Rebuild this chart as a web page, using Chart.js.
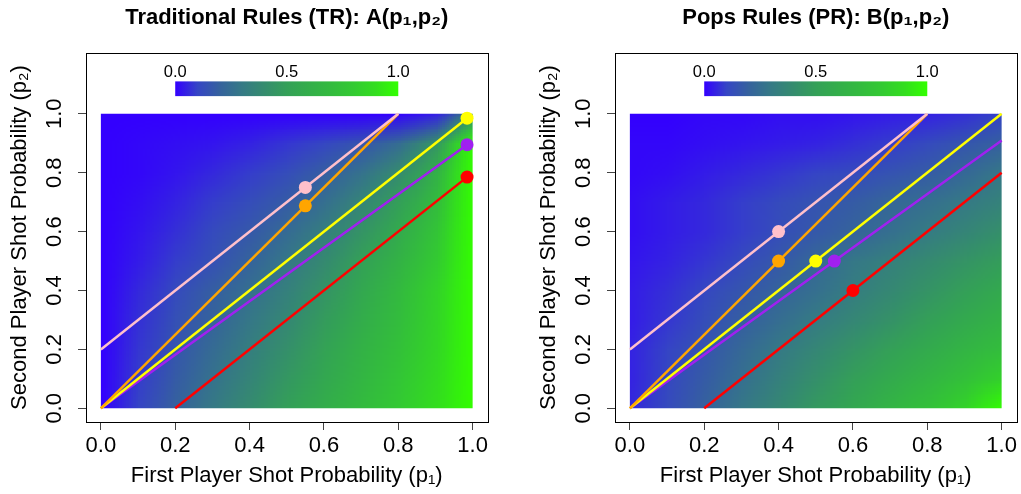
<!DOCTYPE html>
<html>
<head>
<meta charset="utf-8">
<style>
html, body { margin: 0; padding: 0; background: #fff; }
#wrap { position: relative; width: 1021px; height: 494px; overflow: hidden; }
canvas { position: absolute; top: 0; }
#trChart { left: 0; }
#prChart { left: 529px; }
</style>
<script src="https://cdn.jsdelivr.net/npm/chart.js"></script>
</head>
<body>
<div id="wrap">
  <canvas id="trChart" width="494" height="494"></canvas>
  <canvas id="prChart" width="494" height="494"></canvas>
</div>
<script>
// grid of shot probabilities (p1 across, p2 up)
const p1Grid = [0, 0.1, 0.2, 0.3, 0.4, 0.5, 0.6, 0.7, 0.8, 0.9, 1.0];
const p2Grid = [0, 0.1, 0.2, 0.3, 0.4, 0.5, 0.6, 0.7, 0.8, 0.9, 1.0];

// A(p1,p2), traditional rules, one row per p2 value (bottom row first)
const trValues = [
  [0, 0.10, 0.20, 0.30, 0.40, 0.50, 0.60, 0.70, 0.80, 0.90, 1.00],
  [0, 0.09, 0.18, 0.27, 0.36, 0.46, 0.56, 0.66, 0.77, 0.88, 1.00],
  [0, 0.08, 0.16, 0.24, 0.33, 0.42, 0.52, 0.63, 0.74, 0.86, 1.00],
  [0, 0.07, 0.14, 0.21, 0.29, 0.38, 0.48, 0.59, 0.71, 0.85, 1.00],
  [0, 0.06, 0.12, 0.19, 0.26, 0.34, 0.44, 0.56, 0.69, 0.84, 1.00],
  [0, 0.04, 0.09, 0.14, 0.21, 0.29, 0.39, 0.51, 0.64, 0.80, 1.00],
  [0, 0.03, 0.07, 0.12, 0.17, 0.24, 0.33, 0.44, 0.58, 0.76, 1.00],
  [0, 0.02, 0.05, 0.09, 0.13, 0.18, 0.26, 0.36, 0.50, 0.70, 1.00],
  [0, 0.01, 0.03, 0.06, 0.09, 0.13, 0.19, 0.27, 0.40, 0.62, 1.00],
  [0, 0.01, 0.02, 0.03, 0.05, 0.08, 0.11, 0.16, 0.25, 0.45, 1.00],
  [0, 0.00, 0.00, 0.00, 0.00, 0.00, 0.00, 0.00, 0.01, 0.05, 0.40]
];

// B(p1,p2), pops rules
const prValues = [
  [0.06, 0.12, 0.20, 0.29, 0.38, 0.47, 0.56, 0.65, 0.74, 0.85, 1.00],
  [0.05, 0.11, 0.18, 0.26, 0.34, 0.42, 0.50, 0.58, 0.66, 0.74, 0.84],
  [0.05, 0.10, 0.16, 0.23, 0.30, 0.37, 0.44, 0.51, 0.58, 0.65, 0.72],
  [0.04, 0.08, 0.13, 0.19, 0.25, 0.31, 0.37, 0.43, 0.50, 0.57, 0.64],
  [0.04, 0.07, 0.11, 0.16, 0.21, 0.26, 0.32, 0.38, 0.44, 0.50, 0.57],
  [0.03, 0.05, 0.08, 0.12, 0.17, 0.23, 0.29, 0.34, 0.39, 0.44, 0.49],
  [0.02, 0.04, 0.06, 0.09, 0.13, 0.17, 0.21, 0.26, 0.31, 0.36, 0.42],
  [0.02, 0.04, 0.06, 0.09, 0.12, 0.15, 0.18, 0.22, 0.26, 0.30, 0.35],
  [0.01, 0.02, 0.04, 0.06, 0.08, 0.10, 0.12, 0.15, 0.18, 0.23, 0.29],
  [0.01, 0.01, 0.02, 0.03, 0.04, 0.05, 0.07, 0.09, 0.12, 0.16, 0.20],
  [0.00, 0.00, 0.01, 0.01, 0.02, 0.02, 0.03, 0.04, 0.05, 0.07, 0.10]
];

// reference lines (pink, orange, yellow, purple, red) and their marked points
const trLineX = [[0, 0.8], [0, 0.8], [0, 0.985], [0, 0.985], [0.2, 0.985]];
const trLineY = [[0.2, 1], [0, 1], [0, 0.985], [0, 0.895], [0, 0.785]];
const trPointX = [0.55, 0.55, 0.985, 0.985, 0.985];
const trPointY = [0.75, 0.6875, 0.985, 0.895, 0.785];

const prLineX = [[0, 0.8], [0, 0.8], [0, 1], [0, 1], [0.2, 1]];
const prLineY = [[0.2, 1], [0, 1], [0, 1], [0, 0.909], [0, 0.8]];
const prPointX = [0.4, 0.4, 0.5, 0.55, 0.6];
const prPointY = [0.6, 0.5, 0.5, 0.5, 0.4];

const xTicks = [0, 0.2, 0.4, 0.6, 0.8, 1.0];
const yTicks = [0, 0.2, 0.4, 0.6, 0.8, 1.0];
const cbTicks = [0, 0.5, 1.0];

const lineColors = ['#FFC0CB', '#FFA500', '#FFFF00', '#A020F0', '#FF0000'];

// colour ramp blue -> green
const palStops = [
  [0, 51, 0, 255], [0.1, 53, 69, 197], [0.2, 53, 98, 157], [0.3, 53, 122, 133],
  [0.4, 53, 140, 110], [0.5, 52, 160, 88], [0.6, 51, 174, 74], [0.7, 51, 187, 62],
  [0.8, 51, 202, 50], [0.9, 51, 222, 30], [1, 51, 255, 0]
];
function palette(v) {
  v = Math.max(0, Math.min(1, v));
  for (let i = 1; i < palStops.length; i++) {
    const a = palStops[i - 1], b = palStops[i];
    if (v <= b[0]) {
      const t = (v - a[0]) / (b[0] - a[0]);
      return [1, 2, 3].map(k => Math.round(a[k] + t * (b[k] - a[k])));
    }
  }
  return palStops[palStops.length - 1].slice(1);
}

// where the colour key sits, in data units
const cbX = [0.2, 0.8];
const cbY = [1.06, 1.11];
const cbLabelY = 1.14;

Chart.defaults.font.family = '"Liberation Sans", Arial, Helvetica, sans-serif';
Chart.defaults.color = '#000';

const heatPlugin = {
  id: 'heat',
  beforeDatasetsDraw(chart, args, opts) {
    const { ctx, scales: { x, y } } = chart;
    const vals = opts.values;
    const nx = p1Grid.length, ny = p2Grid.length;
    const off = document.createElement('canvas');
    off.width = nx; off.height = ny;
    const octx = off.getContext('2d');
    const img = octx.createImageData(nx, ny);
    for (let j = 0; j < ny; j++) {
      for (let i = 0; i < nx; i++) {
        const c = palette(vals[j][i]);
        const k = ((ny - 1 - j) * nx + i) * 4;
        img.data[k] = c[0]; img.data[k + 1] = c[1]; img.data[k + 2] = c[2]; img.data[k + 3] = 255;
      }
    }
    octx.putImageData(img, 0, 0);
    const hx = (p1Grid[1] - p1Grid[0]) / 2, hy = (p2Grid[1] - p2Grid[0]) / 2;
    const left = x.getPixelForValue(p1Grid[0] - hx), right = x.getPixelForValue(p1Grid[nx - 1] + hx);
    const top = y.getPixelForValue(p2Grid[ny - 1] + hy), bottom = y.getPixelForValue(p2Grid[0] - hy);
    const cx0 = x.getPixelForValue(p1Grid[0]), cx1 = x.getPixelForValue(p1Grid[nx - 1]);
    const cy0 = y.getPixelForValue(p2Grid[ny - 1]), cy1 = y.getPixelForValue(p2Grid[0]);
    ctx.save();
    ctx.beginPath();
    ctx.rect(cx0, cy0, cx1 - cx0, cy1 - cy0);
    ctx.clip();
    ctx.imageSmoothingEnabled = true;
    ctx.drawImage(off, left, top, right - left, bottom - top);
    ctx.restore();

    // colour key
    const kx0 = x.getPixelForValue(cbX[0]), kx1 = x.getPixelForValue(cbX[1]);
    const ky0 = y.getPixelForValue(cbY[1]), ky1 = y.getPixelForValue(cbY[0]);
    const grad = ctx.createLinearGradient(kx0, 0, kx1, 0);
    palStops.forEach(s => grad.addColorStop(s[0], 'rgb(' + s[1] + ',' + s[2] + ',' + s[3] + ')'));
    ctx.save();
    ctx.fillStyle = grad;
    ctx.fillRect(kx0, ky0, kx1 - kx0, ky1 - ky0);
    ctx.fillStyle = '#000';
    ctx.font = '16.5px "Liberation Sans", Arial, sans-serif';
    ctx.textAlign = 'center';
    ctx.textBaseline = 'middle';
    const ly = y.getPixelForValue(cbLabelY);
    cbTicks.forEach(v => {
      ctx.fillText(v.toFixed(1), x.getPixelForValue(cbX[0] + v * (cbX[1] - cbX[0])), ly);
    });
    ctx.restore();
  },
  afterDatasetsDraw(chart) {
    const { ctx, chartArea: a } = chart;
    ctx.save();
    ctx.strokeStyle = '#000';
    ctx.lineWidth = 1;
    ctx.strokeRect(Math.round(a.left) + 0.5, Math.round(a.top) + 0.5, Math.round(a.right - a.left), Math.round(a.bottom - a.top));
    ctx.restore();
  }
};

function makeChart(id, title, values, lineX, lineY, ptX, ptY) {
  const datasets = lineX.map((xs, i) => ({
    data: xs.map((v, k) => ({ x: v, y: lineY[i][k] })),
    showLine: true,
    borderColor: lineColors[i],
    borderWidth: 2.5,
    pointRadius: 0,
    pointHoverRadius: 0
  }));
  datasets.push({
    data: ptX.map((v, i) => ({ x: v, y: ptY[i] })),
    showLine: false,
    pointRadius: 6.5,
    pointHoverRadius: 6.5,
    pointBorderWidth: 0,
    pointBackgroundColor: lineColors,
    pointBorderColor: lineColors
  });
  return new Chart(document.getElementById(id), {
    type: 'scatter',
    data: { datasets },
    plugins: [heatPlugin],
    options: {
      responsive: false,
      animation: false,
      layout: { padding: { right: 5 } },
      plugins: {
        legend: { display: false },
        tooltip: { enabled: false },
        heat: { values },
        title: {
          display: true,
          text: title,
          fullSize: false,
          color: '#000',
          font: { size: 22, weight: 'bold', lineHeight: 1 },
          padding: { top: 6.5, bottom: 24.5 }
        }
      },
      scales: {
        x: {
          type: 'linear',
          min: -0.04,
          max: 1.04,
          afterBuildTicks: s => { s.ticks = xTicks.map(v => ({ value: v })); },
          ticks: {
            callback: v => v.toFixed(1),
            font: { size: 22, lineHeight: 1 },
            color: '#000',
            padding: 5,
            minRotation: 0,
            maxRotation: 0,
            autoSkip: false
          },
          grid: { drawOnChartArea: false, tickLength: 8, tickColor: '#444' },
          border: { display: false },
          title: {
            display: true,
            text: 'First Player Shot Probability (p\u2081)',
            color: '#000',
            font: { size: 22, lineHeight: 1 },
            padding: { top: 3, bottom: 7 }
          }
        },
        y: {
          type: 'linear',
          min: -0.0464,
          max: 1.2064,
          afterBuildTicks: s => { s.ticks = yTicks.map(v => ({ value: v })); },
          ticks: {
            callback: v => v.toFixed(1),
            font: { size: 22, lineHeight: 1 },
            color: '#000',
            padding: 7.7,
            minRotation: 90,
            maxRotation: 90,
            crossAlign: 'center',
            autoSkip: false
          },
          grid: { drawOnChartArea: false, tickLength: 8, tickColor: '#444' },
          border: { display: false },
          title: {
            display: true,
            text: 'Second Player Shot Probability (p\u2082)',
            color: '#000',
            font: { size: 22, lineHeight: 1 },
            padding: { top: 9, bottom: 9.6 }
          }
        }
      }
    }
  });
}

makeChart('trChart', 'Traditional Rules (TR): A(p\u2081,p\u2082)', trValues, trLineX, trLineY, trPointX, trPointY);
makeChart('prChart', 'Pops Rules (PR): B(p\u2081,p\u2082)', prValues, prLineX, prLineY, prPointX, prPointY);
</script>
</body>
</html>
